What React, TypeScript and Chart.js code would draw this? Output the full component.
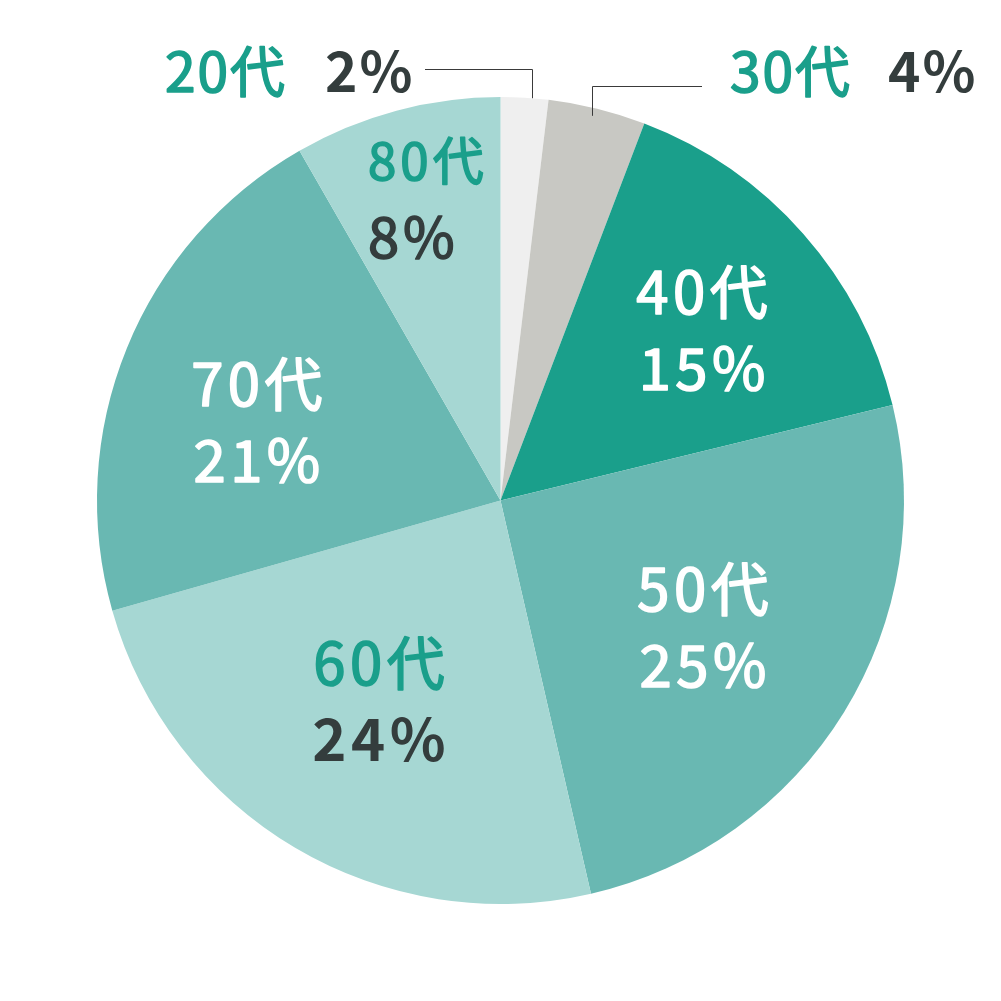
import React, { useEffect, useRef } from "react";
import { Chart, registerables } from "chart.js";

Chart.register(...registerables);

const categories = ["20代", "30代", "40代", "50代", "60代", "70代", "80代"];
const shares = [1.9, 3.9, 15.4, 25.2, 24.2, 21.1, 8.3];
const sliceColors = ["#efefef", "#c8c8c3", "#1a9f8b", "#69b8b2", "#a6d7d3", "#69b8b2", "#a6d7d3"];

const TEAL = "#1a9f8b";
const DARK = "#343d3d";
const WHITE = "#ffffff";
const FONT = "'Noto Sans CJK JP', 'Noto Sans', sans-serif";

// label styling per slice (outside = with leader line)
const labelStyle = [
  { outside: true, c1: TEAL, c2: DARK, w1: 500, w2: 700 },
  { outside: true, c1: TEAL, c2: DARK, w1: 500, w2: 700 },
  { outside: false, c1: WHITE, c2: WHITE, w1: 500, w2: 500, rf: 0.653, da: 1.3, align: "center", ls: 4.5, f1: 58, f2: 58 },
  { outside: false, c1: WHITE, c2: WHITE, w1: 500, w2: 500, rf: 0.593, da: 0.5, align: "center", ls: 4.5, f1: 58, f2: 58 },
  { outside: false, c1: TEAL, c2: DARK, w1: 500, w2: 700, rf: 0.583, da: 0.5, align: "center", ls: 4.5, f1: 58, f2: 58 },
  { outside: false, c1: WHITE, c2: WHITE, w1: 500, w2: 500, rf: 0.634, da: -4.4, align: "center", ls: 4.5, f1: 58, f2: 58 },
  { outside: false, c1: TEAL, c2: DARK, w1: 500, w2: 500, rf: 0.768, da: 1.0, align: "left", ls: 4, f1: 51, f2: 56 },
];

const outsideLayout: Record<number, any> = {
  0: { frac: 0.65, dr: 0, elbowY: 69, endX: 425, t1x: 165, t2x: 325, ty: 72 },
  1: { frac: 0.47, dr: -8, elbowY: 86, endX: 702, t1x: 730, t2x: 888, ty: 72 },
};

function drawText(ctx: CanvasRenderingContext2D, text: string, x: number, y: number, weight: number, size: number, color: string) {
  if (weight === 500) {
    ctx.font = `400 ${size}px ${FONT}`;
    ctx.fillStyle = color;
    ctx.strokeStyle = color;
    ctx.lineWidth = 1.6;
    ctx.lineJoin = "round";
    ctx.fillText(text, x, y);
    ctx.strokeText(text, x, y);
  } else {
    ctx.font = `${weight} ${size}px ${FONT}`;
    ctx.fillStyle = color;
    ctx.fillText(text, x, y);
  }
}

const labelPlugin = {
  id: "sliceLabels",
  afterDraw(chart: any) {
    const ctx = chart.ctx as CanvasRenderingContext2D;
    const meta = chart.getDatasetMeta(0);
    meta.data.forEach((arc: any, i: number) => {
      const st: any = labelStyle[i];
      const pct = Math.round(shares[i]) + "%";
      const { x: cx, y: cy, startAngle, endAngle, outerRadius } = arc.getProps(
        ["x", "y", "startAngle", "endAngle", "outerRadius"],
        true
      );
      ctx.save();
      if (st.outside) {
        const F = 55;
        const L = outsideLayout[i];
        const a = startAngle + (endAngle - startAngle) * L.frac;
        const ax = cx + Math.cos(a) * (outerRadius + L.dr);
        const ay = cy + Math.sin(a) * (outerRadius + L.dr);
        ctx.strokeStyle = "#3a3a3a";
        ctx.lineWidth = 1;
        ctx.beginPath();
        ctx.moveTo(Math.round(ax) + 0.5, ay);
        ctx.lineTo(Math.round(ax) + 0.5, L.elbowY + 0.5);
        ctx.lineTo(L.endX, L.elbowY + 0.5);
        ctx.stroke();
        ctx.textAlign = "left";
        ctx.textBaseline = "alphabetic";
        (ctx as any).letterSpacing = "2px";
        const base = L.ty + 0.367 * F;
        drawText(ctx, categories[i], L.t1x, base, st.w1, F, st.c1);
        drawText(ctx, pct, L.t2x, base, st.w2, F, st.c2);
      } else {
        const a = (startAngle + endAngle) / 2 + ((st.da || 0) * Math.PI) / 180;
        const r = outerRadius * st.rf;
        const bx = cx + Math.cos(a) * r;
        const by = cy + Math.sin(a) * r;
        (ctx as any).letterSpacing = st.ls + "px";
        ctx.textBaseline = "alphabetic";
        const gap = 76;
        const y1 = by - gap / 2 + 0.367 * st.f1;
        const y2 = by + gap / 2 + 0.367 * st.f2;
        ctx.font = `400 ${st.f1}px ${FONT}`;
        const w1 = ctx.measureText(categories[i]).width - st.ls;
        if (st.align === "left") {
          const left = bx - w1 / 2;
          ctx.textAlign = "left";
          drawText(ctx, categories[i], left, y1, st.w1, st.f1, st.c1);
          drawText(ctx, pct, left, y2, st.w2, st.f2, st.c2);
        } else {
          ctx.textAlign = "center";
          drawText(ctx, categories[i], bx + st.ls / 2, y1, st.w1, st.f1, st.c1);
          drawText(ctx, pct, bx + st.ls / 2, y2, st.w2, st.f2, st.c2);
        }
      }
      ctx.restore();
    });
  },
};

export default function App() {
  const ref = useRef<HTMLCanvasElement | null>(null);
  useEffect(() => {
    if (!ref.current) return;
    const chart = new Chart(ref.current, {
      type: "pie",
      data: {
        labels: categories,
        datasets: [
          {
            data: shares,
            backgroundColor: sliceColors,
            borderWidth: 0,
          },
        ],
      },
      options: {
        responsive: false,
        animation: false,
        layout: { padding: 97 },
        plugins: {
          legend: { display: false },
          tooltip: { enabled: false },
        },
      },
      plugins: [labelPlugin],
    });
    return () => chart.destroy();
  }, []);
  return (
    <div style={{ position: "fixed", left: 0, top: 0, width: 1001, height: 1001, background: "#fff" }}>
      <canvas ref={ref} width={1001} height={1001} style={{ width: 1001, height: 1001, display: "block" }} />
    </div>
  );
}
